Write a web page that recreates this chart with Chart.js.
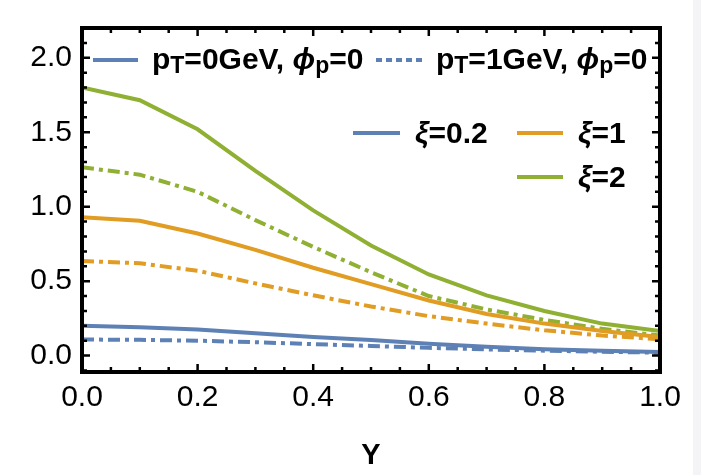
<!DOCTYPE html>
<html>
<head>
<meta charset="utf-8">
<script src="https://cdn.jsdelivr.net/npm/chart.js@4.4.1/dist/chart.umd.min.js"></script>
<style>
  html, body { margin: 0; padding: 0; background: #f4f4f6; }
  #wrap { position: absolute; left: 0; top: 0; width: 693px; height: 475px; background: #fff; }
</style>
</head>
<body>
<div id="wrap"><canvas id="chart"></canvas></div>
<script>
// rapidity Y and the six curves
const rapidity = [0, 0.1, 0.2, 0.3, 0.4, 0.5, 0.6, 0.7, 0.8, 0.9, 1.0];

const xi02_pt0 = [0.20, 0.19, 0.175, 0.15, 0.125, 0.105, 0.08, 0.06, 0.042, 0.032, 0.025];
const xi02_pt1 = [0.108, 0.106, 0.10, 0.09, 0.077, 0.065, 0.052, 0.042, 0.033, 0.026, 0.02];
const xi1_pt0 = [0.93, 0.905, 0.82, 0.71, 0.59, 0.48, 0.37, 0.28, 0.215, 0.165, 0.125];
const xi1_pt1 = [0.635, 0.62, 0.57, 0.485, 0.405, 0.33, 0.265, 0.215, 0.17, 0.135, 0.11];
const xi2_pt0 = [1.80, 1.715, 1.52, 1.24, 0.975, 0.74, 0.545, 0.405, 0.30, 0.215, 0.165];
const xi2_pt1 = [1.265, 1.215, 1.10, 0.91, 0.73, 0.56, 0.40, 0.31, 0.24, 0.18, 0.135];

const xTicks = [0, 0.2, 0.4, 0.6, 0.8, 1.0];
const yTicks = [0, 0.5, 1.0, 1.5, 2.0];

const BLUE = "#5e81b5";
const ORANGE = "#e19c24";
const GREEN = "#8fb032";
const DASHDOT = [12, 5, 4, 5];
const FONT = "'Liberation Sans', Arial, sans-serif";

function series(values, color, dashed) {
	return {
		data: values.map((v, i) => ({ x: rapidity[i], y: v })),
		borderColor: color,
		borderWidth: 4,
		borderDash: dashed ? DASHDOT : [],
		pointRadius: 0,
		tension: 0,
		fill: false,
	};
}

// draw a run of text pieces (for subscripts / italics)
function drawRuns(ctx, x, y, runs) {
	runs.forEach((r) => {
		ctx.font = r.font;
		ctx.fillText(r.t, x, y + (r.dy || 0));
		x += ctx.measureText(r.t).width;
	});
}

const B = "bold 30px " + FONT;
const BI = "italic bold 30px " + FONT;
const SUB = "bold 23px " + FONT;

const framePlugin = {
	id: "framePlugin",
	afterDatasetsDraw(chart) {
		const { ctx, chartArea: a, scales } = chart;
		const x = scales.x, y = scales.y;
		ctx.save();
		ctx.strokeStyle = "#000";
		ctx.lineWidth = 2.5;
		ctx.setLineDash([]);
		// x ticks, major every 0.2, minor every 0.05
		for (let i = 0; i <= 20; i++) {
			const px = x.getPixelForValue(i * 0.05);
			const len = i % 4 === 0 ? 8 : 5;
			ctx.beginPath();
			ctx.moveTo(px, a.bottom); ctx.lineTo(px, a.bottom - len);
			ctx.moveTo(px, a.top); ctx.lineTo(px, a.top + len);
			ctx.stroke();
		}
		// y ticks, major every 0.5, minor every 0.1
		for (let i = -1; i <= 22; i++) {
			const py = y.getPixelForValue(i * 0.1);
			const len = i % 5 === 0 ? 8 : 5;
			ctx.beginPath();
			ctx.moveTo(a.left, py); ctx.lineTo(a.left + len, py);
			ctx.moveTo(a.right, py); ctx.lineTo(a.right - len, py);
			ctx.stroke();
		}
		ctx.lineWidth = 4;
		ctx.strokeRect(a.left, a.top, a.right - a.left, a.bottom - a.top);

		// legends
		ctx.lineWidth = 4;
		ctx.fillStyle = "#000";
		ctx.textBaseline = "alphabetic";
		const sample = (x0, x1, yy, color, dash) => {
			ctx.strokeStyle = color;
			ctx.setLineDash(dash);
			ctx.beginPath();
			ctx.moveTo(x0, yy); ctx.lineTo(x1, yy);
			ctx.stroke();
		};
		sample(93, 138, 60, BLUE, []);
		drawRuns(ctx, 152, 69, [
			{ t: "p", font: B }, { t: "T", font: SUB, dy: 4 }, { t: "=0GeV, ", font: B },
			{ t: "ϕ", font: BI }, { t: "p", font: SUB, dy: 4 }, { t: "=0", font: B },
		]);
		sample(376, 423, 60, BLUE, [6, 4]);
		drawRuns(ctx, 436, 69, [
			{ t: "p", font: B }, { t: "T", font: SUB, dy: 4 }, { t: "=1GeV, ", font: B },
			{ t: "ϕ", font: BI }, { t: "p", font: SUB, dy: 4 }, { t: "=0", font: B },
		]);
		sample(353, 400, 133, BLUE, []);
		drawRuns(ctx, 415, 143, [{ t: "ξ", font: BI }, { t: "=0.2", font: B }]);
		sample(517, 563, 133, ORANGE, []);
		drawRuns(ctx, 578, 143, [{ t: "ξ", font: BI }, { t: "=1", font: B }]);
		sample(517, 563, 177, GREEN, []);
		drawRuns(ctx, 578, 187, [{ t: "ξ", font: BI }, { t: "=2", font: B }]);
		ctx.restore();
	},
};

const chart = new Chart(document.getElementById("chart"), {
	type: "line",
	data: {
		datasets: [
			series(xi02_pt0, BLUE, false),
			series(xi02_pt1, BLUE, true),
			series(xi1_pt0, ORANGE, false),
			series(xi1_pt1, ORANGE, true),
			series(xi2_pt0, GREEN, false),
			series(xi2_pt1, GREEN, true),
		],
	},
	options: {
		responsive: true,
		maintainAspectRatio: false,
		animation: false,
		devicePixelRatio: 1,
		layout: { padding: { top: 13, right: 33, left: 0, bottom: 0 } },
		plugins: { legend: { display: false }, tooltip: { enabled: false } },
		scales: {
			x: {
				type: "linear",
				min: 0,
				max: 1,
				afterBuildTicks: (s) => { s.ticks = xTicks.map((v) => ({ value: v })); },
				afterFit: (s) => { s.height = 103; },
				grid: { display: false, drawTicks: false },
				border: { display: false },
				ticks: {
					padding: 8,
					color: "#000",
					font: { family: FONT, size: 30 },
					maxRotation: 0,
					callback: (v) => v.toFixed(1),
				},
				title: {
					display: true,
					text: "Y",
					color: "#000",
					font: { family: FONT, size: 29, weight: "bold" },
					padding: { top: 0, bottom: 2 },
				},
			},
			y: {
				min: -0.11,
				max: 2.2,
				afterBuildTicks: (s) => { s.ticks = yTicks.map((v) => ({ value: v })); },
				afterFit: (s) => { s.width = 82; },
				grid: { display: false, drawTicks: false },
				border: { display: false },
				ticks: {
					padding: 10,
					color: "#000",
					font: { family: FONT, size: 30 },
					callback: (v) => v.toFixed(1),
				},
			},
		},
	},
	plugins: [framePlugin],
});
</script>
</body>
</html>
